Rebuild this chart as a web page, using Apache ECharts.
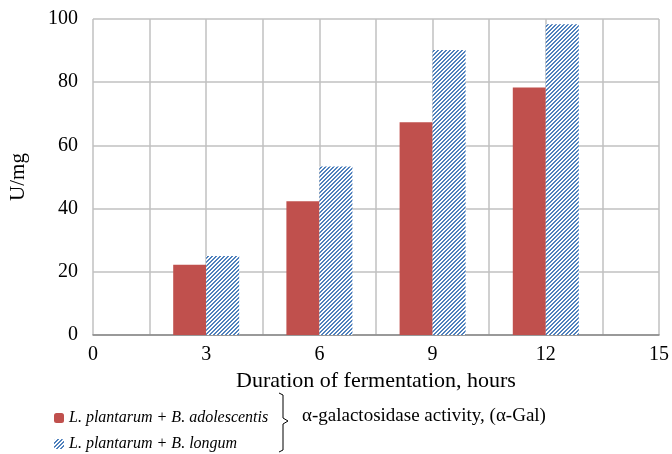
<!DOCTYPE html>
<html><head><meta charset="utf-8">
<script src="https://cdn.jsdelivr.net/npm/echarts@6/dist/echarts.min.js"></script>
<style>html,body{margin:0;padding:0;background:#fff}#c{width:672px;height:454px}</style>
</head><body><div id="c"></div>
<script>
const hours = [3, 6, 9, 12];
const adolescentis = [22.2, 42.3, 67.3, 78.3];
const longum = [25.0, 53.3, 90.2, 98.3];
const seriesNames = ['L. plantarum + B. adolescentis', 'L. plantarum + B. longum'];
const xTickLabels = [0, 3, 6, 9, 12, 15];
const yTickLabels = [0, 20, 40, 60, 80, 100];

function hatch() {
  const c = document.createElement('canvas');
  c.width = 4; c.height = 4;
  const g = c.getContext('2d');
  g.fillStyle = '#ffffff'; g.fillRect(0, 0, 4, 4);
  g.fillStyle = '#4f81bd';
  for (let i = 0; i < 4; i++) { g.fillRect(3 - i, i, 1, 1); g.fillRect((3 - i + 1) % 4, i, 1, 1); }
  return c;
}
const hatchImg = hatch();
const serif = '"Liberation Serif", "Times New Roman", serif';

const chart = echarts.init(document.getElementById('c'));
chart.setOption({
  animation: false,
  grid: { left: 93, right: 12, top: 19, bottom: 119 },
  xAxis: {
    type: 'value', min: 0, max: 15, interval: 1.5,
    name: 'Duration of fermentation, hours', nameLocation: 'middle', nameGap: 33,
    nameTextStyle: { fontFamily: serif, fontSize: 22, color: '#000' },
    axisLine: { show: true, lineStyle: { color: '#868686', width: 1.5 } },
    axisTick: { show: false },
    axisLabel: {
      fontFamily: serif, fontSize: 20, color: '#000', margin: 10,
      formatter: v => xTickLabels.some(t => Math.abs(t - v) < 1e-6) ? String(Math.round(v)) : ''
    },
    splitLine: { show: true, lineStyle: { color: '#c0c0c0', width: 1.5 } }
  },
  yAxis: {
    type: 'value', min: 0, max: 100, interval: 20,
    name: 'U/mg', nameLocation: 'middle', nameGap: 64,
    nameTextStyle: { fontFamily: serif, fontSize: 21, color: '#000' },
    axisLine: { show: false }, axisTick: { show: false },
    axisLabel: { fontFamily: serif, fontSize: 20, color: '#000', margin: 15,
      formatter: v => yTickLabels.includes(v) ? String(v) : '' },
    splitLine: { show: true, lineStyle: { color: '#c0c0c0', width: 1.5 } }
  },
  legend: {
    orient: 'vertical', left: 54, top: 410, padding: 0, height: 60,
    itemWidth: 10, itemHeight: 10, itemGap: 10,
    textStyle: { fontFamily: serif, fontSize: 16, fontStyle: 'italic', color: '#000' },
    data: seriesNames
  },
  graphic: [
    { type: 'polyline', shape: { points: [[279, 393], [283, 395], [283, 418], [288, 421], [283, 424], [283, 450], [279, 452]] },
      style: { stroke: '#000', lineWidth: 1, fill: null } },
    { type: 'text', left: 302, top: 407,
      style: { text: 'α-galactosidase activity, (α-Gal)', font: '19px ' + serif, fill: '#000' } }
  ],
  series: [
    { name: seriesNames[0], type: 'bar', barWidth: 33, barGap: '0%',
      itemStyle: { color: '#c0504d' },
      data: hours.map((h, i) => [h, adolescentis[i]]) },
    { name: seriesNames[1], type: 'bar', barWidth: 33, barGap: '0%',
      itemStyle: { color: { image: hatchImg, repeat: 'repeat' } },
      data: hours.map((h, i) => [h, longum[i]]) }
  ]
});
</script></body></html>
